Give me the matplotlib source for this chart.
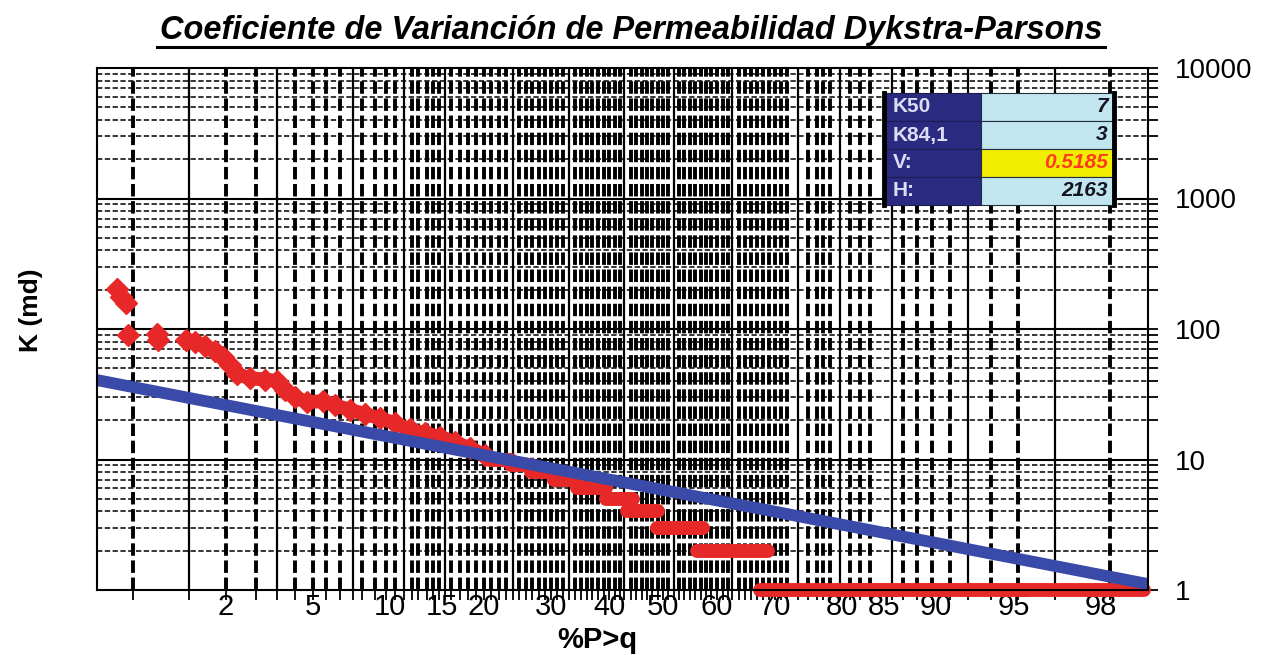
import matplotlib
matplotlib.use("Agg")
import matplotlib.pyplot as plt
from matplotlib.patches import Rectangle
from matplotlib.lines import Line2D
from matplotlib import font_manager
from statistics import NormalDist

# isolated high-permeability points (%P>q, K md)
tail_p = [0.52, 0.55, 0.585, 0.60, 0.875, 0.89]
tail_k = [203, 176, 158, 90, 91, 82]

# continuous part of the sorted samples
band_p = [1.26, 1.40, 1.58, 1.77, 1.94, 2.10, 2.28, 2.63, 3.08, 3.5, 3.8, 4.2,
          4.74, 5.52, 6.18, 7.09, 8.09, 9.2, 10.4, 11.7, 13.2, 14.8, 16.4, 18.2, 20.2]
band_k = [82, 79.5, 74, 68, 61, 53, 45, 42, 41, 40, 34, 30,
          27.5, 28, 26, 24, 22.3, 20.7, 19, 17, 15.9, 14.9, 13.6, 12.2, 10.8]

# integer permeability levels and the %P>q range each one covers
step_k = [10, 9, 8, 7, 6, 5, 4, 3, 2, 1]
step_p_from = [20.8, 23.8, 26.8, 30.4, 34.3, 39.5, 43.3, 48.9, 56.3, 67.5]
step_p_to = [23.8, 26.8, 30.4, 34.3, 39.5, 44.4, 49.1, 57.4, 68.9, 98.8]

# fitted line
fit_p = [0.394, 98.86]
fit_k = [40.6, 1.11]

x_labels = [2, 5, 10, 15, 20, 30, 40, 50, 60, 70, 80, 85, 90, 95, 98]
y_labels = [1, 10, 100, 1000, 10000]

grid_solid_p = [1.3, 3.5, 7.3, 11.2, 15.3, 24, 33, 42.7, 52, 62.7, 73.7, 79.7,
                85.9, 92.4, 96.7]
grid_dash_left = [0.64, 2, 2.8, 4.2, 5, 5.7, 6.5, 7.9, 8.8, 9.7, 10.4, 11.9,
                  12.5, 13.4, 14, 14.6]
grid_dash_right = [75.2, 76.5, 77.4, 78.3, 81, 82.3, 83.4, 87, 88.3, 89.7, 91.1,
                   93.8, 95.2, 98.2]

stat_names = ["K50", "K84,1", "V:", "H:"]
stat_values = ["7", "3", "0.5185", "2163"]

x_lim_p = [0.394, 98.86]

title_text = "Coeficiente de Varianción de Permeabilidad Dykstra-Parsons"

nd = NormalDist()


def z(values):
    return [nd.inv_cdf(v / 100.0) for v in values]


def pick_font(names):
    for n in names:
        try:
            font_manager.findfont(font_manager.FontProperties(family=n),
                                  fallback_to_default=False)
            return n
        except Exception:
            pass
    return "DejaVu Sans"


base_font = pick_font(["Liberation Sans", "Arial", "DejaVu Sans"])
title_font = pick_font(["Liberation Sans Narrow", "Liberation Sans", "DejaVu Sans"])
plt.rcParams["font.family"] = [base_font, "DejaVu Sans"]

W, H = 1263, 655
fig = plt.figure(figsize=(W / 100, H / 100), dpi=100)
ax = fig.add_axes([97 / W, 1 - 590 / H, (1148 - 97) / W, (590 - 68) / H])

ax.set_yscale("log")
ax.set_ylim(1, 10000)
xl = z(x_lim_p)
ax.set_xlim(xl[0], xl[1])

# grid
dense = [p for p in range(16, 73) if min(abs(p - s) for s in grid_solid_p) > 0.6]
grid_dash_p = grid_dash_left + dense + grid_dash_right
ax.vlines(z(grid_dash_p), 1, 10000, colors="black", lw=2.8,
          linestyles=[(0, (3.2, 1.2))], zorder=1)
ax.vlines(z(grid_solid_p), 1, 10000, colors="black", lw=1.6, zorder=1)
minor_y = [m * 10 ** d for d in range(4) for m in range(2, 10)]
ax.hlines(minor_y, xl[0], xl[1], colors="black", lw=1.1,
          linestyles=[(0, (3.5, 1.6))], zorder=1)
ax.hlines(y_labels[1:-1], xl[0], xl[1], colors="black", lw=1.5, zorder=1)

# data
red = "#E62828"
ax.plot(z(tail_p), tail_k, "D", color=red, ms=11, mec=red, zorder=3, clip_on=False)
ax.plot(z(band_p), band_k, "-", color=red, lw=10, solid_capstyle="round", zorder=3)
ax.plot(z(band_p), band_k, "D", color=red, ms=11, mec=red, zorder=3)
for k, a, b in zip(step_k, step_p_from, step_p_to):
    ax.plot(z([a, b]), [k, k], "-", color=red, lw=10, solid_capstyle="round",
            zorder=3, clip_on=False)
ax.plot(z(fit_p), fit_k, "-", color="#3A4AA8", lw=8.5, solid_capstyle="butt", zorder=4)

# axes and ticks
for s in ax.spines.values():
    s.set_linewidth(1.5)
    s.set_color("black")
    s.set_zorder(5)

ax.xaxis.remove_overlapping_locs = False
ax.set_xticks(z(x_labels))
ax.set_xticklabels([str(v) for v in x_labels], fontsize=21)
ax.set_xticks(z(grid_solid_p + grid_dash_p), minor=True)
ax.tick_params(axis="x", which="major", length=0, pad=2)
ax.tick_params(axis="x", which="minor", length=7, width=1.3, direction="out")

ax.yaxis.tick_right()
ax.yaxis.remove_overlapping_locs = False
ax.set_yticks(y_labels)
ax.set_yticklabels([str(v) for v in y_labels], fontsize=20)
ax.set_yticks(minor_y, minor=True)
ax.yaxis.set_minor_formatter(plt.NullFormatter())
ax.tick_params(axis="y", which="both", length=7, width=1.3, direction="out",
               pad=12, right=True, left=False)

# stats box
tx0, tx1 = (884 - 97) / 1051, (1114 - 97) / 1051
tmid = (981 - 97) / 1051
row_h = 28 / 522
top = (590 - 93) / 522
for i, (name, val) in enumerate(zip(stat_names, stat_values)):
    y0 = top - (i + 1) * row_h
    ax.add_patch(Rectangle((tx0, y0), tmid - tx0, row_h, transform=ax.transAxes,
                           facecolor="#2A2A80", edgecolor="#1C1C50", lw=0.8,
                           zorder=6, clip_on=False))
    face = "#F2EE00" if name == "V:" else "#C2E6F0"
    ax.add_patch(Rectangle((tmid, y0), tx1 - tmid, row_h, transform=ax.transAxes,
                           facecolor=face, edgecolor="#203040", lw=0.8,
                           zorder=6, clip_on=False))
    ax.text(tx0 + 0.008, y0 + row_h / 2, name, transform=ax.transAxes,
            ha="left", va="center", fontsize=15, fontweight="bold",
            color="#DCDCF4", zorder=7)
    ax.text(tx1 - 0.006, y0 + row_h / 2, val, transform=ax.transAxes,
            ha="right", va="center", fontsize=15, fontweight="bold",
            fontstyle="italic", color="#FF3A20" if name == "V:" else "#141420",
            zorder=7)
bot = top - 4 * row_h
for xb in (tx0, tx1):
    ax.add_artist(Line2D([xb, xb], [bot, top], transform=ax.transAxes,
                         color="black", lw=3.5, zorder=8, clip_on=False))

# labels
fig.text(31 / W, 1 - 310 / H, "K (md)", rotation=90, ha="center", va="center",
         fontsize=19, fontweight="bold")
fig.text(597 / W, 1 - 640 / H, "%P>q", ha="center", va="center",
         fontsize=21, fontweight="bold")

title = fig.text(631 / W, 1 - 30 / H, title_text, ha="center", va="center",
                 fontsize=20, fontweight="bold", fontstyle="italic",
                 family=[title_font, "DejaVu Sans"])
fig.canvas.draw()
bb = title.get_window_extent()
title.set_fontsize(20 * 942 / bb.width)
fig.canvas.draw()
bb = title.get_window_extent()
uy = 1 - 47 / H
fig.add_artist(Line2D([bb.x0 / W - 0.002, bb.x1 / W + 0.002], [uy, uy],
                      transform=fig.transFigure, color="black", lw=2.2))

fig.savefig("out.png", dpi=100, facecolor="white")
